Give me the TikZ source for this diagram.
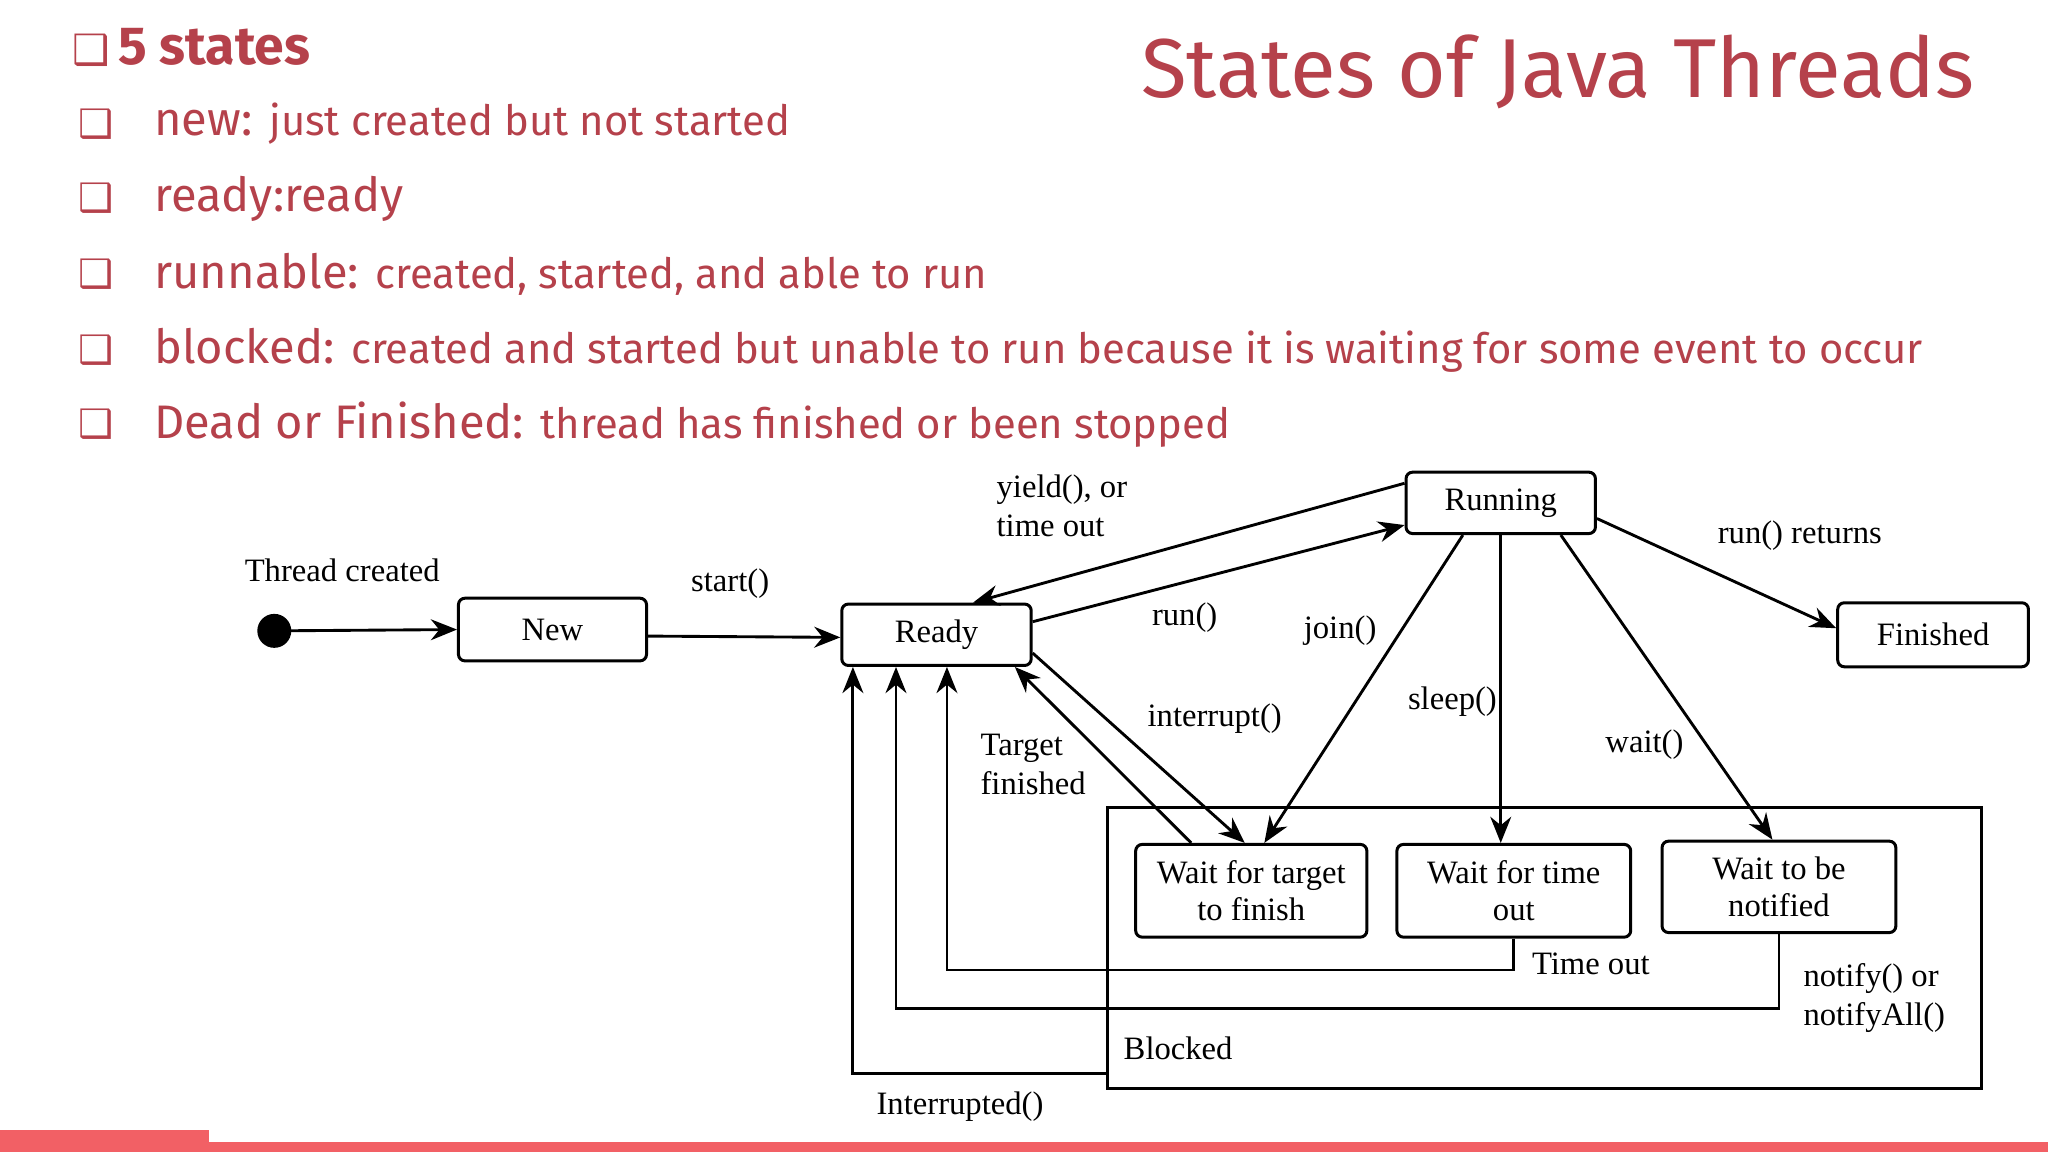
\documentclass[tikz,border=0pt]{standalone}
\usepackage{fontspec}
\setmainfont{Liberation Serif}
\newfontfamily\uifont{Fira Sans}
\newfontfamily\symfont{DejaVu Sans}
\usetikzlibrary{arrows.meta,calc}
\definecolor{ttl}{HTML}{B5414B}
\definecolor{bar}{HTML}{F26065}
\begin{document}
\begin{tikzpicture}[x=1pt,y=-1pt,
  box/.style={draw,line width=2.3pt,rounded corners=5pt,font=\fontsize{25}{28}\selectfont,align=center,inner sep=2pt},
  lbl/.style={font=\fontsize{25}{30}\selectfont,align=left,inner sep=0pt},
  arr/.style={line width=2.2pt,-{Stealth[length=20pt,width=16pt]}},
  bl/.style={anchor=west,text=ttl,inner sep=0pt,font=\uifont\fontsize{36}{38}\selectfont},
  sq/.style={anchor=west,text=ttl,inner sep=0pt,font=\symfont\fontsize{30}{30}\selectfont}]
\useasboundingbox (0,0) rectangle (1568,882);
\fill[white] (0,0) rectangle (1568,882);
\fill[bar] (0,874) rectangle (1568,882);
\fill[bar] (0,865) rectangle (160,882);
% text
\node[bl,font=\uifont\bfseries\fontsize{41}{42}\selectfont] (h) at (55,36) {{\symfont\fontsize{32}{32}\selectfont ❑}\,5 states};
\node[anchor=east,text=ttl,inner sep=0pt,font=\uifont\fontsize{64}{66}\selectfont] (title) at (1512,55) {States of Java Threads};
\node[sq] (s1) at (60,95) {❑};
\node[bl] (b1) at (118,95) {new: {\fontsize{32}{34}\selectfont just created but not started}};
\node[sq] (s2) at (60,152) {❑};
\node[bl] (b2) at (118,152) {ready:ready};
\node[sq] (s3) at (60,210) {❑};
\node[bl] (b3) at (118,210) {runnable: {\fontsize{32}{34}\selectfont created, started, and able to run}};
\node[sq] (s4) at (60,268) {❑};
\node[bl] (b4) at (118,268) {blocked: {\fontsize{32}{34}\selectfont created and started but unable to run because it is waiting for some event to occur}};
\node[sq] (s5) at (60,325) {❑};
\node[bl] (b5) at (118,325) {Dead or Finished: {\fontsize{32}{34}\selectfont thread has finished or been stopped}};
% diagram
\fill (210,483) circle (13);
\coordinate (dot) at (210,483);
\node[lbl] (tc) at (262,437) {Thread created};
\node[box,minimum width=144,minimum height=48] (new) at (423,482) {New};
\node[box,minimum width=145,minimum height=47] (ready) at (717,486) {Ready};
\node[box,minimum width=145,minimum height=47] (run) at (1149,385) {Running};
\node[box,minimum width=146,minimum height=49] (fin) at (1480,486) {Finished};
\draw[line width=2.3pt] (848,618) rectangle (1517,833);
\node[box,minimum width=177,minimum height=71] (wt) at (958,682) {Wait for target\\to finish};
\node[box,minimum width=179,minimum height=71] (wto) at (1159,682) {Wait for time\\out};
\node[box,minimum width=179,minimum height=70] (wn) at (1362,679) {Wait to be\\notified};
\node[lbl] at (902,803) {Blocked};
\draw[arr] (dot) -- (new.west);
\draw[arr] ([yshift=-5pt]new.east) -- ([yshift=-2pt]ready.west);
\node[lbl] at (559,447) {start()};
\draw[arr] ([yshift=15pt]run.west) -- ([xshift=28pt]ready.north);
\node[lbl] at (813,387) {yield(), or\\time out};
\draw[arr] ([yshift=10pt]ready.east) -- ([yshift=-17pt]run.west);
\node[lbl] at (907,473) {run()};
\draw[arr] ([yshift=-12pt]run.east) -- ([yshift=5pt]fin.west);
\node[lbl] at (1378,410) {run() returns};
\draw[arr] ([xshift=-29pt]run.south) -- ([xshift=10pt]wt.north);
\node[lbl] at (1026,483) {join()};
\draw[arr] (run.south) -- (run.south |- wto.north);
\node[lbl] at (1112,537) {sleep()};
\draw[arr] ([xshift=46pt]run.south) -- ([xshift=-5pt]wn.north);
\node[lbl] at (1259,570) {wait()};
\draw[arr] ([yshift=-14pt]ready.east) -- ([xshift=-5pt]wt.north);
\node[lbl] at (930,550) {interrupt()};
\draw[arr] ([xshift=-46pt]wt.north) -- ([xshift=60pt]ready.south);
\node[lbl] at (791,585) {Target\\finished};
\draw[line width=2.2pt] (wto.south) -- ++(0,24) -| ([xshift=8pt,yshift=-15pt]ready.south);
\draw[arr] ([xshift=8pt,yshift=-15pt]ready.south) -- ([xshift=8pt]ready.south);
\node[lbl] at (1218,738) {Time out};
\draw[arr] (wn.south) -- ++(0,57) -| ([xshift=-31pt]ready.south);
\node[lbl] at (1435,764) {notify() or\\notifyAll()};
\coordinate (ib) at (848,822);
\draw[arr] (ib) -| ([xshift=-64pt]ready.south);
\node[lbl] at (735,847) {Interrupted()};
\end{tikzpicture}
\end{document}
